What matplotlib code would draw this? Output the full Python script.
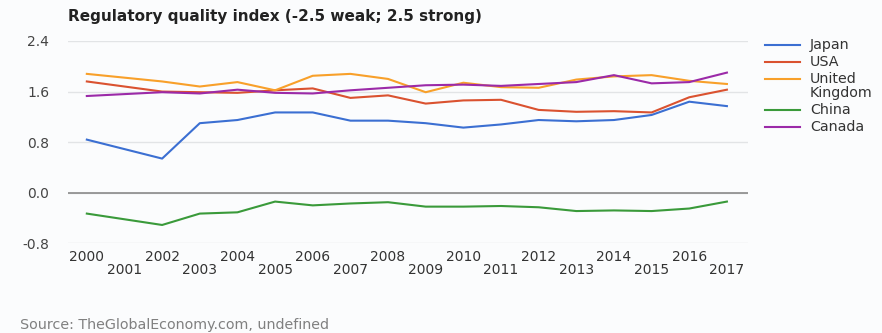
import matplotlib
matplotlib.use("Agg")
import matplotlib.pyplot as plt
from matplotlib.lines import Line2D

plt.rcParams['font.family'] = ['DejaVu Sans']

years = [2000, 2002, 2003, 2004, 2005, 2006, 2007, 2008, 2009,
         2010, 2011, 2012, 2013, 2014, 2015, 2016, 2017]

japan = [0.84, 0.54, 1.10, 1.15, 1.27, 1.27, 1.14, 1.14, 1.10,
         1.03, 1.08, 1.15, 1.13, 1.15, 1.23, 1.44, 1.37]
usa = [1.76, 1.60, 1.59, 1.58, 1.62, 1.65, 1.50, 1.54, 1.41,
       1.46, 1.47, 1.31, 1.28, 1.29, 1.27, 1.51, 1.63]
uk = [1.88, 1.76, 1.68, 1.75, 1.62, 1.85, 1.88, 1.80, 1.59,
      1.74, 1.67, 1.66, 1.79, 1.84, 1.86, 1.77, 1.72]
china = [-0.33, -0.51, -0.33, -0.31, -0.14, -0.20, -0.17, -0.15, -0.22,
         -0.22, -0.21, -0.23, -0.29, -0.28, -0.29, -0.25, -0.14]
canada = [1.53, 1.59, 1.57, 1.63, 1.58, 1.57, 1.62, 1.66, 1.70,
          1.71, 1.69, 1.72, 1.75, 1.86, 1.73, 1.75, 1.90]

series_names = ["Japan", "USA", "United\nKingdom", "China", "Canada"]
series_values = [japan, usa, uk, china, canada]
series_colors = ["#3b6fd2", "#da5230", "#f8a02a", "#3a9a3a", "#9b2aa8"]

y_ticks = [-0.8, 0.0, 0.8, 1.6, 2.4]
even_years = list(range(2000, 2018, 2))
odd_years = list(range(2001, 2018, 2))

W, H = 882, 333
bg = "#fbfcfd"
fig = plt.figure(figsize=(W / 100, H / 100), dpi=100, facecolor=bg)
ax = fig.add_axes([68 / W, 1 - 243.3 / H, (748 - 68) / W, (243.3 - 41) / H])
ax.set_facecolor(bg)

for name, vals, col in zip(series_names, series_values, series_colors):
    ax.plot(years, vals, color=col, lw=1.5, label=name, solid_joinstyle="round")

ax.set_xlim(1999.5, 2017.56)
ax.set_ylim(-0.8, 2.4)

ax.set_yticks(y_ticks)
ax.set_yticklabels([f"{v:.1f}" for v in y_ticks])
ax.tick_params(axis="y", length=0, pad=13.5, labelsize=10, labelcolor="#444444")

ax.set_xticks(even_years)
ax.set_xticklabels([str(y) for y in even_years])
ax.set_xticks(odd_years, minor=True)
ax.set_xticklabels([str(y) for y in odd_years], minor=True)
ax.tick_params(axis="x", which="major", length=0, pad=5, labelsize=10, labelcolor="#333333")
ax.tick_params(axis="x", which="minor", length=0, pad=14.5, labelsize=10, labelcolor="#333333")

ax.grid(axis="y", color="#e2e4e6", lw=1)
ax.grid(axis="x", visible=False)
ax.axhline(0, color="#8a8a8a", lw=1.2, zorder=1)
for s in ax.spines.values():
    s.set_visible(False)
ax.set_axisbelow(True)

fig.text(68 / W, 1 - 17 / H, "Regulatory quality index (-2.5 weak; 2.5 strong)",
         fontsize=11, fontweight="bold", color="#222222", va="center", ha="left")
fig.text(20 / W, 1 - 325 / H, "Source: TheGlobalEconomy.com, undefined",
         fontsize=10.3, color="#808080", va="center", ha="left")

# Legend on the right: swatch aligned with the first line of each label
row_y = 45
for name, col in zip(series_names, series_colors):
    lines = name.split("\n")
    fig.add_artist(Line2D([765 / W, 800 / W], [1 - row_y / H, 1 - row_y / H],
                          transform=fig.transFigure, color=col, lw=1.5))
    for i, part in enumerate(lines):
        fig.text(810 / W, 1 - (row_y + 14 * i) / H, part, fontsize=10.3,
                 color="#333333", va="center", ha="left")
    row_y += 17 + 14 * (len(lines) - 1)

fig.savefig("out.png", dpi=100, facecolor=bg)
